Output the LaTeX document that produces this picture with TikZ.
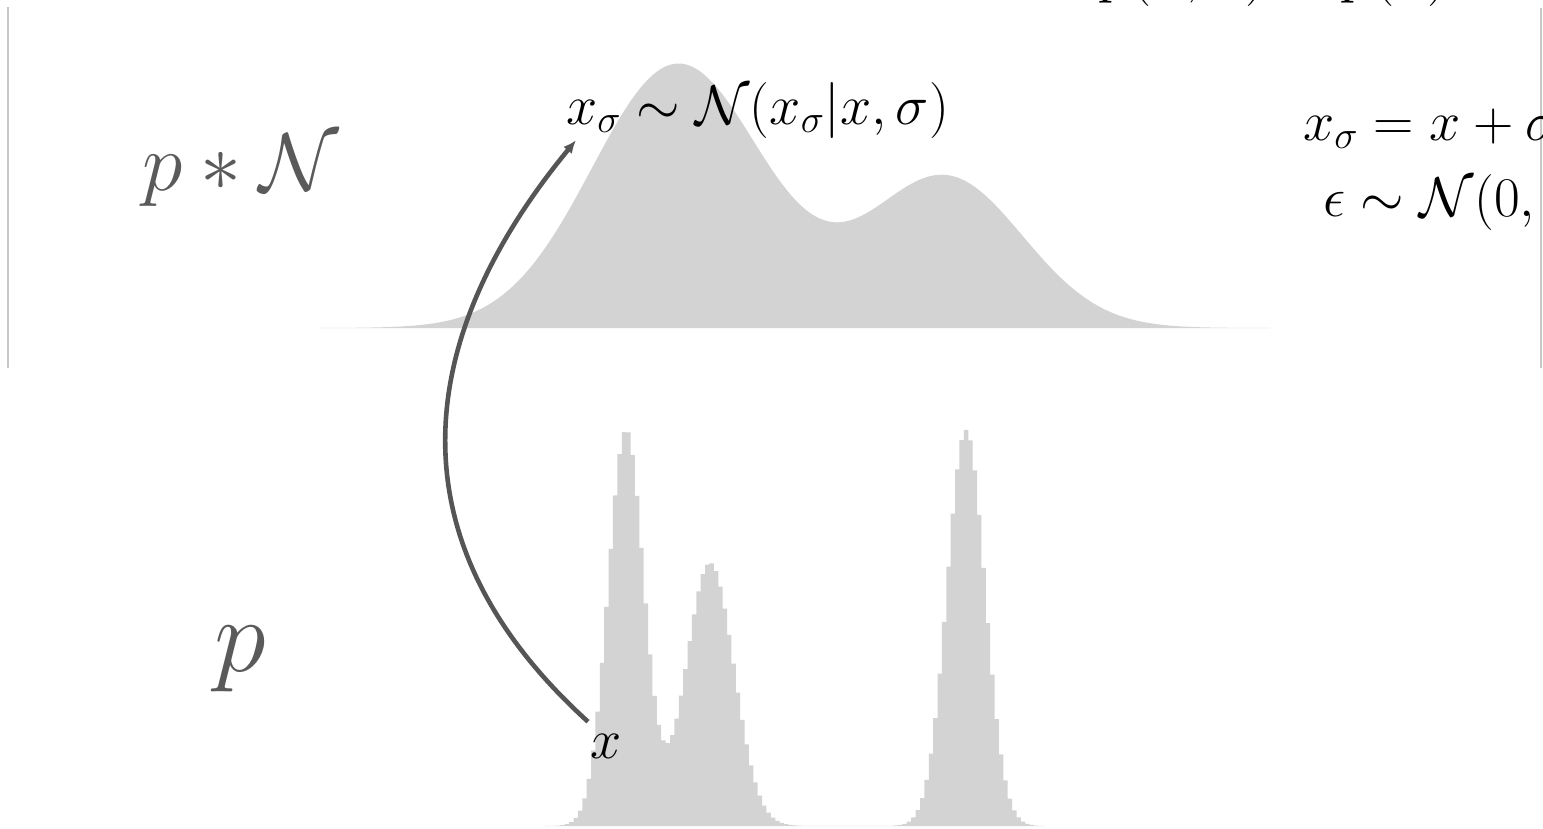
\RequirePackage{fix-cm}
\documentclass[tikz,border=0pt]{standalone}
\usetikzlibrary{arrows.meta,calc}
\definecolor{distgray}{HTML}{D3D3D3}
\definecolor{labelgray}{HTML}{5A5A5A}
\definecolor{arrowgray}{HTML}{555555}
\definecolor{framegray}{HTML}{C8C8C8}
\begin{document}
\begin{tikzpicture}[x=1pt,y=-1pt,
  math/.style={inner sep=0pt, font=\fontsize{56}{60}\selectfont},
  biglabel/.style={inner sep=0pt, text=labelgray},
  frameline/.style={draw=framegray, line width=1.5pt},
  samplearrow/.style={draw=arrowgray, line width=4.6pt, -{Latex[length=13pt,width=11pt]}}]
\path[use as bounding box, clip] (0,0) rectangle (1543,828);
% smoothed density p * N
\fill[distgray] (320,328) -- plot[domain=320:1270, samples=320]
  (\x, {328 - 264*exp(-min(0.5*((\x-678)/86)^2,9)) - 151*exp(-min(0.5*((\x-945)/78)^2,9))})
  -- (1270,328) -- cycle;
% data density p (histogram)
\fill[distgray] (545,826) -- plot[const plot mark mid, domain=545:1045, samples=115]
  (\x, {826 - 396*exp(-min(0.5*((\x-626)/18)^2,9)) - 263*exp(-min(0.5*((\x-710)/24)^2,9)) - 396*exp(-min(0.5*((\x-966)/19)^2,9))})
  -- (1045,826) -- cycle;
% frame sides
\draw[frameline] (8,7) -- (8,368);
\draw[frameline] (1541,8) -- (1541,368);
% labels
\node[biglabel, font=\fontsize{82}{90}\selectfont, anchor=base west] (lpn) at (142,190) {$p * \mathcal{N}$};
\node[biglabel, font=\fontsize{105}{115}\selectfont, anchor=base west] (lp) at (214,671) {$p$};
\node[math, anchor=base west] (xs) at (566,124) {$x_\sigma \sim \mathcal{N}(x_\sigma|x,\sigma)$};
\node[math, anchor=base west] (x) at (590,758) {$x$};
\node[math, anchor=base west] (eq1) at (1303,140) {$x_\sigma = x + \sigma\epsilon$};
\node[math, anchor=base west] (eq2) at (1323,216) {$\epsilon \sim \mathcal{N}(0, I)$};
\node[inner sep=0pt, font=\fontsize{60}{64}\selectfont, anchor=base west] (topeq) at (1101,-9) {$p(x;\sigma) = p(x) * \mathcal{N}(0,\sigma^2)$};
% sampling arrow
\coordinate (a0) at ($(x.north west)+(-2,-12)$);
\coordinate (a1) at ($(xs.south west)+(10,2)$);
\draw[samplearrow] (a0) .. controls (380,533) and (422,327) .. (a1);
\end{tikzpicture}
\end{document}
